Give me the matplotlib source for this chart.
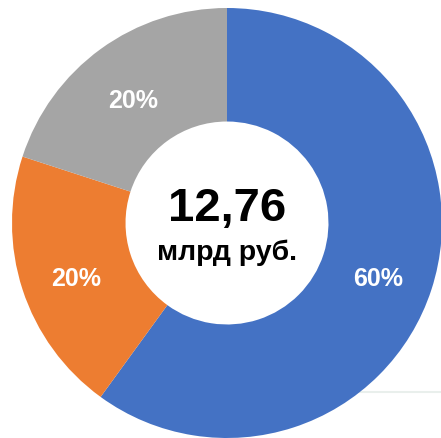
import matplotlib
matplotlib.use("Agg")
import matplotlib.pyplot as plt
from matplotlib.lines import Line2D

plt.rcParams['font.family'] = ['Liberation Sans', 'DejaVu Sans']

# data
shares = [60, 20, 20]
colors = ['#4472C4', '#ED7D31', '#A5A5A5']
total_value = '12,76'
total_unit = 'млрд руб.'

fig = plt.figure(figsize=(4.41, 4.39), dpi=100)
fig.patch.set_facecolor('white')

# square axes of 430 px, donut centred near (227, 224) px from top-left
ax = fig.add_axes([12 / 441, 0 / 439, 430 / 441, 430 / 439])
ax.set_zorder(1)

wedges, texts, autotexts = ax.pie(
    shares, colors=colors, startangle=90, counterclock=False,
    radius=1.0, autopct='%.0f%%', pctdistance=0.74,
    wedgeprops=dict(width=0.528, linewidth=0),
    textprops=dict(color='white', fontsize=18, fontweight='bold'))

# put the label baselines so the digits sit centred on the ring
for t in autotexts:
    x, y = t.get_position()
    t.set_position((x, y - 0.058))
    t.set_va('baseline')

ax.text(0, 0.012, total_value, ha='center', va='baseline',
        fontsize=34, fontweight='bold', color='black')
ax.text(0, -0.168, total_unit, ha='center', va='baseline',
        fontsize=20.5, fontweight='bold', color='black')

ax.set_xlim(-1, 1)
ax.set_ylim(-1, 1)
ax.set_aspect('equal')
ax.axis('off')

# faint separator line at the lower right, behind the chart
fig.add_artist(Line2D([340 / 441, 1.0], [46 / 439, 46 / 439],
                      color='#e9efec', lw=1.5, zorder=0))

fig.savefig('out.png', dpi=100, facecolor='white')
